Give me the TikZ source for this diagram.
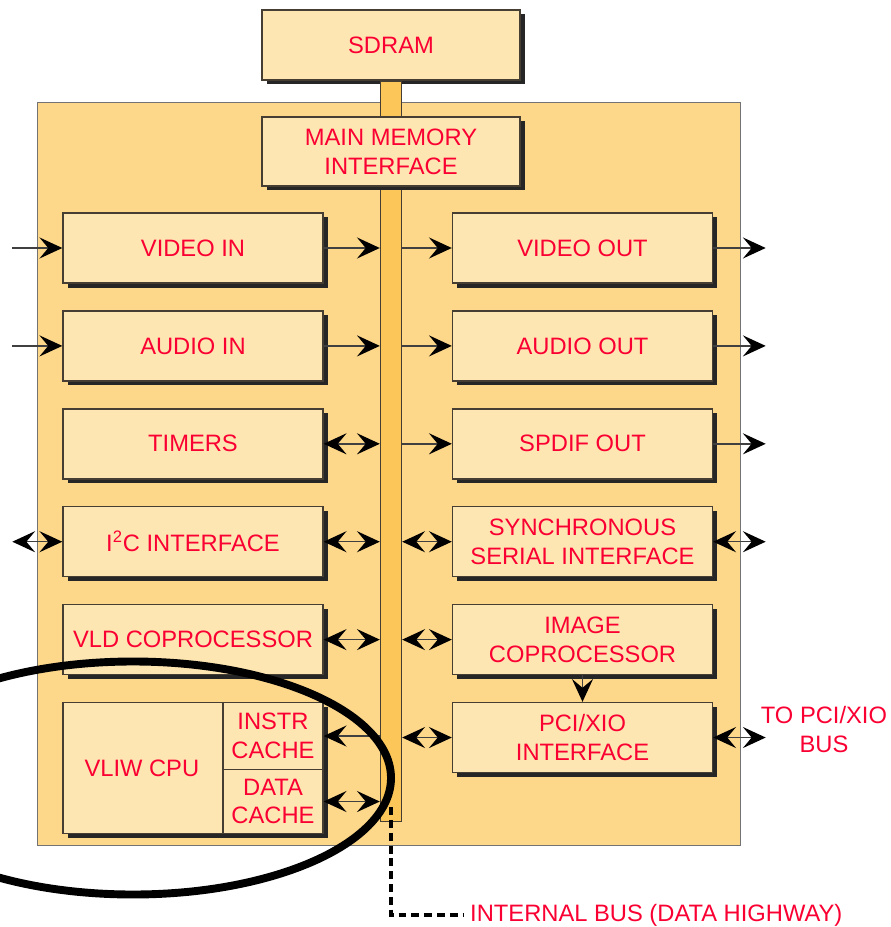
\documentclass[tikz,border=0pt]{standalone}
\usepackage{fontspec}
\setmainfont{Liberation Sans}
\usetikzlibrary{arrows.meta, positioning, shadows}
\definecolor{chipfill}{RGB}{253,215,138}
\definecolor{boxfill}{RGB}{254,230,178}
\definecolor{busfill}{RGB}{252,198,88}
\definecolor{redtext}{RGB}{250,0,50}
\definecolor{edgegray}{RGB}{70,62,50}
\tikzset{
  block/.style={
    rectangle, draw=edgegray, line width=0.8pt, fill=boxfill,
    minimum width=5.2cm, minimum height=1.4cm, align=center,
    text=redtext, font=\fontsize{13.5}{16.4}\selectfont
  },
  blk/.style={block, drop shadow={shadow xshift=0.09cm, shadow yshift=-0.09cm,
                                  opacity=1, fill=black!85}},
  cell/.style={block, minimum width=2cm},
  chip/.style={rectangle, draw=black!55, fill=chipfill, line width=0.8pt},
  busbar/.style={rectangle, draw=edgegray, fill=busfill, line width=0.8pt,
                 minimum width=0.42cm, minimum height=14.8cm},
  lbl/.style={text=redtext, align=center, font=\fontsize{13.5}{16.4}\selectfont},
  head/.tip={Stealth[length=13pt, width=12pt, inset=5pt, color=black]},
  arr/.style={-head, line width=0.8pt, draw=black!75},
  barr/.style={head-head, line width=0.8pt, draw=black!75},
  hwy/.style={line width=2.3pt, dash pattern=on 4.5pt off 2.8pt},
  ring/.style={line width=4.5pt}
}

\begin{document}
\begin{tikzpicture}[node distance=0.53cm]
  \useasboundingbox (0,0) rectangle (17.8,-18.54);

  % chip outline and the internal bus
  \node[chip, anchor=north west, minimum width=14.06cm, minimum height=14.86cm]
      (chip) at (0.74,-2.04) {};
  \node[blk, minimum width=5.16cm] (sdram) at (7.82,-0.9) {SDRAM};
  \node[busbar, anchor=north] (bus) at (sdram.south) {};
  \node[blk, minimum width=5.16cm, minimum height=1.38cm] (mmi) at (7.82,-3.03)
      {MAIN MEMORY\\INTERFACE};

  % left column
  \node[blk] (vin) at (3.86,-4.96) {VIDEO IN};
  \node[blk, below=of vin]   (ain)    {AUDIO IN};
  \node[blk, below=of ain]   (timers) {TIMERS};
  \node[blk, below=of timers](i2c)    {I\textsuperscript{2}C INTERFACE};
  \node[blk, below=of i2c]   (vld)    {VLD COPROCESSOR};
  \node[blk, below=of vld, minimum height=2.62cm] (cpu) {};
  \node[cell, anchor=north east, minimum height=1.34cm] (icache) at (cpu.north east)
      {INSTR\\CACHE};
  \node[cell, anchor=south east, minimum height=1.28cm] (dcache) at (cpu.south east)
      {DATA\\CACHE};
  \node[lbl, right=0.32cm of cpu.west] (cpulbl) {VLIW CPU};

  % right column
  \node[blk] (vout) at (11.65,-4.96) {VIDEO OUT};
  \node[blk, below=of vout]  (aout)  {AUDIO OUT};
  \node[blk, below=of aout]  (spdif) {SPDIF OUT};
  \node[blk, below=of spdif] (ssi)   {SYNCHRONOUS\\SERIAL INTERFACE};
  \node[blk, below=of ssi]   (imgc)  {IMAGE\\COPROCESSOR};
  \node[blk, below=of imgc]  (pci)   {PCI/XIO\\INTERFACE};

  % outside ends
  \coordinate[left=1cm of vin]     (vinsrc);
  \coordinate[left=1cm of ain]     (ainsrc);
  \coordinate[left=1cm of i2c]     (i2cext);
  \coordinate[right=1.05cm of vout]  (voutdst);
  \coordinate[right=1.05cm of aout]  (aoutdst);
  \coordinate[right=1.05cm of spdif] (spdifdst);
  \coordinate[right=1.05cm of ssi]   (ssiext);
  \coordinate[right=1.05cm of pci]   (pciext);
  \node[lbl, right=-0.22cm of pciext, yshift=0.16cm] (pcibus) {TO PCI/XIO\\BUS};
  \node[lbl, anchor=west] (hwytxt) at (9.28,-18.3) {INTERNAL BUS (DATA HIGHWAY)};

  \draw[arr]  (vinsrc) -- (vin);
  \draw[arr]  (ainsrc) -- (ain);
  \draw[barr] (i2cext) -- (i2c);
  \draw[arr]  (vout) -- (voutdst);
  \draw[arr]  (aout) -- (aoutdst);
  \draw[arr]  (spdif) -- (spdifdst);
  \draw[barr] (ssi) -- (ssiext);
  \draw[barr] (pci) -- (pciext);

  % to and from the bus
  \draw[arr]  (vin.east)    -- (vin.east -| bus.west);
  \draw[arr]  (ain.east)    -- (ain.east -| bus.west);
  \draw[barr] (timers.east) -- (timers.east -| bus.west);
  \draw[barr] (i2c.east)    -- (i2c.east -| bus.west);
  \draw[barr] (vld.east)    -- (vld.east -| bus.west);
  \draw[arr]  (icache.east -| bus.west) -- (icache.east);
  \draw[barr] (dcache.east) -- (dcache.east -| bus.west);
  \draw[arr]  (vout.west -| bus.east)  -- (vout.west);
  \draw[arr]  (aout.west -| bus.east)  -- (aout.west);
  \draw[arr]  (spdif.west -| bus.east) -- (spdif.west);
  \draw[barr] (ssi.west -| bus.east)   -- (ssi.west);
  \draw[barr] (imgc.west -| bus.east)  -- (imgc.west);
  \draw[barr] (pci.west -| bus.east)   -- (pci.west);
  \draw[arr]  (imgc) -- (pci);

  \draw[hwy] ([yshift=0.3cm]bus.south) |- (hwytxt.west);

  \begin{scope}
    \clip (0,0) rectangle (17.8,-18.54);
    \draw[ring] (2.66,-15.56) ellipse (5.16cm and 2.33cm);
  \end{scope}
\end{tikzpicture}
\end{document}
